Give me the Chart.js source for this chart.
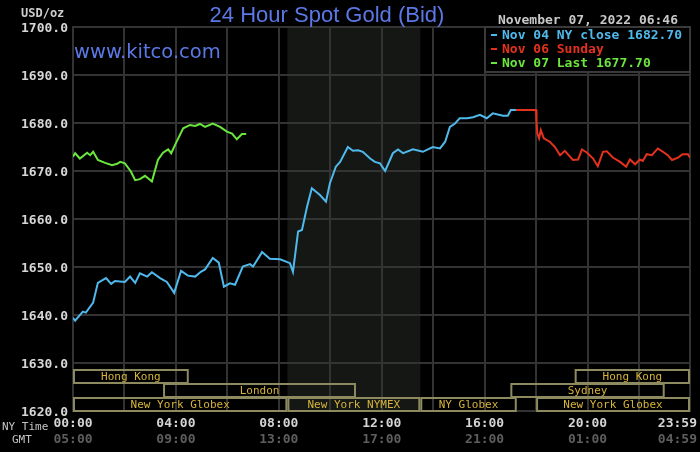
<!DOCTYPE html>
<html>
<head>
<meta charset="utf-8">
<script src="https://cdn.jsdelivr.net/npm/chart.js@4.4.0/dist/chart.umd.min.js"></script>
<style>
  html, body { margin: 0; padding: 0; background: #000; }
  #wrap { width: 700px; height: 452px; }
</style>
</head>
<body>
<div id="wrap"><canvas id="gold" width="700" height="452"></canvas></div>
<script>
// Nov 04 (NY session) - blue
const blueTimes = ['00:00','00:05','00:23','00:30','00:47','00:58','01:17','01:29','01:38','02:01',
  '02:13','02:25','02:36','02:53','03:04','03:23','03:39','03:56','04:12','04:28',
  '04:45','04:58','05:08','05:26','05:40','05:52','06:06','06:18','06:36','06:53',
  '07:00','07:21','07:39','08:03','08:26','08:33','08:45','08:54','09:06','09:17',
  '09:36','09:50','09:59','10:13','10:23','10:41','10:53','11:05','11:16','11:33',
  '11:44','11:56','12:08','12:26','12:38','12:50','13:13','13:36','13:59','14:16',
  '14:28','14:39','14:51','15:02','15:19','15:33','15:49','16:05','16:19','16:43',
  '16:54','17:01','17:13'];
const blueValues = [1639.4,1638.8,1640.7,1640.5,1642.6,1646.7,1647.7,1646.5,1647.1,1646.9,
  1648.0,1646.7,1648.7,1648.0,1648.9,1647.7,1646.9,1644.6,1649.2,1648.2,
  1648.0,1649.0,1649.5,1651.9,1650.9,1645.9,1646.6,1646.3,1650.1,1650.6,
  1650.1,1653.1,1651.7,1651.6,1650.8,1649.0,1657.4,1657.7,1662.6,1666.4,
  1665.0,1663.6,1667.4,1670.9,1671.9,1675.0,1674.2,1674.3,1674.0,1672.6,
  1671.9,1671.6,1670.0,1673.7,1674.5,1673.7,1674.5,1674.0,1675.0,1674.7,
  1676.1,1679.2,1679.9,1681.0,1681.0,1681.2,1681.7,1681.0,1682.0,1681.5,
  1681.5,1682.7,1682.7];

// Nov 06 Sunday - red
const redTimes = ['17:13','18:00','18:01','18:03','18:07','18:11','18:18','18:32','18:44','18:56',
  '19:07','19:26','19:38','19:47','19:59','20:13','20:24','20:36','20:45','20:59',
  '21:16','21:30','21:39','21:51','22:02','22:09','22:18','22:30','22:44','22:56',
  '23:07','23:17','23:31','23:42','23:54','23:59'];
const redValues = [1682.7,1682.7,1680.3,1677.8,1676.8,1678.5,1676.8,1676.1,1675.0,1673.3,
  1674.2,1672.3,1672.4,1674.5,1673.8,1672.6,1671.0,1674.0,1674.1,1672.8,
  1671.9,1670.9,1672.4,1671.4,1672.4,1672.1,1673.5,1673.3,1674.7,1674.0,
  1673.3,1672.3,1672.8,1673.5,1673.5,1672.8];

// Nov 07 last - green
const greenTimes = ['00:00','00:05','00:16','00:33','00:40','00:47','00:58','01:15','01:31','01:43',
  '01:50','02:01','02:15','02:25','02:36','02:48','02:55','03:04','03:18','03:30',
  '03:42','03:49','04:00','04:17','04:33','04:45','04:56','05:08','05:26','05:43',
  '05:59','06:11','06:22','06:34','06:44'];
const greenValues = [1673.0,1673.7,1672.6,1673.8,1673.3,1674.0,1672.3,1671.7,1671.2,1671.5,
  1671.9,1671.6,1669.9,1668.1,1668.3,1669.0,1668.5,1667.8,1672.3,1673.8,
  1674.5,1673.7,1675.8,1678.9,1679.6,1679.4,1679.8,1679.2,1679.9,1679.2,
  1678.2,1677.8,1676.6,1677.7,1677.7];

const seriesLabels = ['Nov 04 NY close 1682.70', 'Nov 06 Sunday', 'Nov 07 Last 1677.70'];

const gridTimes = ['00:00','02:00','04:00','06:00','08:00','10:00','12:00','14:00','16:00','18:00','20:00','22:00','23:59'];
const nyLabels = ['00:00','04:00','08:00','12:00','16:00','20:00','23:59'];
const gmtLabels = ['05:00','09:00','13:00','17:00','21:00','01:00','04:59'];

const nymexShade = ['08:20', '13:30'];
const sessionNames = ['Hong Kong','London','New York Globex','New York NYMEX','NY Globex','Sydney','New York Globex','Hong Kong'];
const sessionStart = ['00:00','03:30','00:00','08:20','13:30','17:00','18:00','19:30'];
const sessionEnd   = ['04:30','11:00','08:20','13:30','17:15','23:00','23:59','23:59'];
const sessionRow   = [0, 1, 2, 2, 2, 1, 2, 0];

function toMin(t) {
  const [h, m] = t.split(':').map(Number);
  return h * 60 + m;
}

function points(times, values) {
  return times.map((t, i) => ({ x: toMin(t), y: values[i] }));
}

const MONO = '"DejaVu Sans Mono", monospace';

const decor = {
  id: 'decor',
  beforeDraw(chart) {
    const { ctx, chartArea: a, scales: { x } } = chart;
    ctx.save();
    ctx.fillStyle = '#000';
    ctx.fillRect(0, 0, chart.width, chart.height);
    const s = x.getPixelForValue(toMin(nymexShade[0]));
    const e = x.getPixelForValue(toMin(nymexShade[1]));
    ctx.fillStyle = '#141714';
    ctx.fillRect(s, a.top, e - s, a.bottom - a.top);
    ctx.restore();
  },
  afterDatasetsDraw(chart) {
    const { ctx, chartArea: a, scales: { x } } = chart;
    const rowH = 14;
    ctx.save();
    ctx.font = '11px ' + MONO;
    ctx.textAlign = 'center';
    ctx.textBaseline = 'middle';
    sessionNames.forEach((name, i) => {
      const x0 = x.getPixelForValue(toMin(sessionStart[i]));
      const x1 = x.getPixelForValue(toMin(sessionEnd[i]));
      const y0 = a.bottom - (3 - sessionRow[i]) * rowH;
      ctx.strokeStyle = '#8c8a5e';
      ctx.lineWidth = 2;
      ctx.strokeRect(x0 + 1, y0 + 1, x1 - x0 - 2, rowH - 1);
      ctx.fillStyle = '#d6b43a';
      ctx.fillText(name, (x0 + x1) / 2, y0 + rowH / 2 + 1);
    });
    ctx.restore();
  },
  afterDraw(chart) {
    const { ctx, chartArea: a, scales: { x } } = chart;
    ctx.save();

    // title and site
    ctx.fillStyle = '#5b78e6';
    ctx.textAlign = 'center';
    ctx.textBaseline = 'alphabetic';
    ctx.font = '22px "Liberation Sans", Arial, sans-serif';
    ctx.fillText('24 Hour Spot Gold (Bid)', 327, 22);
    ctx.textAlign = 'left';
    ctx.font = '19.5px "DejaVu Sans", sans-serif';
    ctx.fillText('www.kitco.com', a.left + 1, 58);

    // unit and timestamp
    ctx.fillStyle = '#cfcfcf';
    ctx.font = 'bold 12px ' + MONO;
    ctx.fillText('USD/oz', 21, 17);
    ctx.font = 'bold 13px ' + MONO;
    ctx.fillStyle = '#c8c8c8';
    ctx.fillText('November 07, 2022 06:46', 498, 24);

    // legend box
    const lx = a.right - 205, ly = a.top;
    ctx.fillStyle = '#000';
    ctx.fillRect(lx, ly, 205, 45);
    ctx.strokeStyle = '#3a3a3a';
    ctx.lineWidth = 2;
    ctx.strokeRect(lx, ly, 205, 45);
    chart.data.datasets.forEach((ds, i) => {
      const cy = ly + 8 + i * 14;
      ctx.strokeStyle = ds.borderColor;
      ctx.lineWidth = 2;
      ctx.beginPath();
      ctx.moveTo(lx + 6, cy);
      ctx.lineTo(lx + 12, cy);
      ctx.stroke();
      ctx.fillStyle = ds.borderColor;
      ctx.font = 'bold 13px ' + MONO;
      ctx.textBaseline = 'middle';
      ctx.fillText(ds.label, lx + 17, cy + 1);
    });

    // time axis labels
    ctx.textAlign = 'center';
    ctx.textBaseline = 'middle';
    ctx.font = 'bold 13px ' + MONO;
    nyLabels.forEach((t, i) => {
      const w = ctx.measureText(t).width;
      let px = x.getPixelForValue(toMin(t));
      px = Math.min(px, chart.width - 3 - w / 2);
      ctx.fillStyle = '#d4d4d4';
      ctx.fillText(t, px, a.bottom + 13);
      ctx.fillStyle = '#5e5e5e';
      ctx.fillText(gmtLabels[i], px, a.bottom + 29);
    });
    ctx.textAlign = 'left';
    ctx.font = '11px ' + MONO;
    ctx.fillStyle = '#c4c4c4';
    ctx.fillText('NY Time', 2, a.bottom + 16);
    ctx.fillText('GMT', 12, a.bottom + 29);
    ctx.restore();
  }
};

new Chart(document.getElementById('gold'), {
  type: 'line',
  data: {
    datasets: [
      { label: seriesLabels[0], data: points(blueTimes, blueValues), borderColor: '#4fb9ec' },
      { label: seriesLabels[1], data: points(redTimes, redValues), borderColor: '#e5321f' },
      { label: seriesLabels[2], data: points(greenTimes, greenValues), borderColor: '#6be63c' }
    ]
  },
  options: {
    responsive: false,
    animation: false,
    devicePixelRatio: 1,
    layout: { padding: { top: 27, right: 10, bottom: 41, left: 0 } },
    elements: {
      line: { borderWidth: 2, tension: 0 },
      point: { radius: 0 }
    },
    plugins: { legend: { display: false }, tooltip: { enabled: false } },
    scales: {
      x: {
        type: 'linear',
        min: 0,
        max: toMin('23:59'),
        afterBuildTicks(scale) {
          scale.ticks = gridTimes.map(t => ({ value: toMin(t) }));
        },
        ticks: { display: false },
        grid: { color: '#333', lineWidth: 2, drawTicks: false },
        border: { color: '#333', width: 2 }
      },
      y: {
        min: 1620,
        max: 1700,
        afterFit(scale) { scale.width = 73; },
        ticks: {
          stepSize: 10,
          padding: 5,
          labelOffset: 2,
          color: '#d6d6d6',
          font: { family: 'DejaVu Sans Mono', size: 13, weight: 'bold' },
          callback: v => v.toFixed(1)
        },
        grid: { color: '#333', lineWidth: 2, drawTicks: false },
        border: { color: '#333', width: 2 }
      }
    }
  },
  plugins: [decor]
});
</script>
</body>
</html>
